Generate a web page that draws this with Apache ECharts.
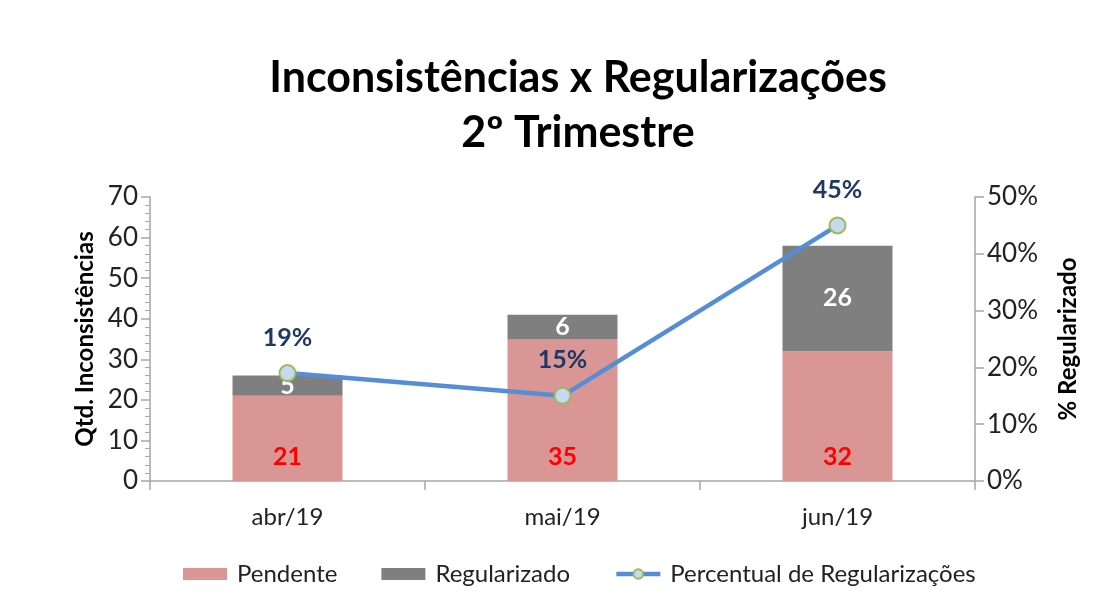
<!DOCTYPE html>
<html>
<head>
<meta charset="utf-8">
<script src="https://cdn.jsdelivr.net/npm/echarts@6/dist/echarts.min.js"></script>
<style>
  html, body { margin: 0; padding: 0; background: #fff; }
  #chart { width: 1108px; height: 611px; }
</style>
</head>
<body>
<div id="chart"></div>
<script>
// dados do gráfico
var meses = ['abr/19', 'mai/19', 'jun/19'];
var pendente = [21, 35, 32];
var regularizado = [5, 6, 26];
var percentual = [19, 15, 45];   // em %

var fonte = 'Lato, "Open Sans", sans-serif';

var myChart = echarts.init(document.getElementById('chart'));

var option = {
  backgroundColor: '#ffffff',
  textStyle: { fontFamily: fonte },
  title: {
    text: 'Inconsistências x Regularizações\n2º Trimestre',
    left: 573,
    textAlign: 'center',
    top: 46,
    textStyle: {
      fontFamily: fonte,
      fontSize: 43,
      fontWeight: 'bold',
      color: '#000',
      lineHeight: 55
    }
  },
  legend: {
    top: 557,
    left: 178,
    itemWidth: 44,
    itemHeight: 12,
    itemGap: 44,
    textStyle: { fontSize: 24, color: '#222', fontFamily: fonte, padding: [0, 0, 0, 5] },
    data: [
      { name: 'Pendente', icon: 'rect' },
      { name: 'Regularizado', icon: 'rect' },
      { name: 'Percentual de Regularizações', lineStyle: { width: 4.5, color: '#558ED5' } }
    ]
  },
  grid: {
    left: 150,
    right: 133,
    top: 197,
    bottom: 130
  },
  xAxis: {
    type: 'category',
    data: meses,
    axisLine: { lineStyle: { color: '#A6A6A6', width: 1.5 } },
    axisTick: { show: true, length: 9, lineStyle: { color: '#A6A6A6', width: 1.5 } },
    axisLabel: { fontSize: 24, color: '#222', margin: 24 }
  },
  yAxis: [
    {
      type: 'value',
      min: 0,
      max: 70,
      interval: 10,
      name: 'Qtd. Inconsistências',
      nameLocation: 'middle',
      nameGap: 51,
      nameTextStyle: { fontSize: 24, fontWeight: 'bold', color: '#000' },
      axisLine: { show: true, lineStyle: { color: '#A6A6A6', width: 1.5 } },
      axisTick: { show: true, length: 9, lineStyle: { color: '#A6A6A6', width: 1.5 } },
      minorTick: { show: true, splitNumber: 5, length: 5, lineStyle: { color: '#A6A6A6' } },
      axisLabel: { fontSize: 26, color: '#222', margin: 12 },
      splitLine: { show: false }
    },
    {
      type: 'value',
      min: 0,
      max: 50,
      interval: 10,
      name: '% Regularizado',
      nameLocation: 'middle',
      nameGap: 81,
      nameRotate: 90,
      nameTextStyle: { fontSize: 24, fontWeight: 'bold', color: '#000' },
      position: 'right',
      axisLine: { show: true, lineStyle: { color: '#A6A6A6', width: 1.5 } },
      axisTick: { show: true, length: 9, lineStyle: { color: '#A6A6A6', width: 1.5 } },
      axisLabel: { fontSize: 26, color: '#222', margin: 12, formatter: '{value}%' },
      splitLine: { show: false }
    }
  ],
  series: [
    {
      name: 'Pendente',
      type: 'bar',
      stack: 'total',
      barWidth: '40%',
      data: pendente,
      itemStyle: { color: '#D99694' },
      label: {
        show: true,
        position: 'insideBottom',
        distance: 12,
        fontSize: 25,
        fontWeight: 'bold',
        color: '#FF0000'
      }
    },
    {
      name: 'Regularizado',
      type: 'bar',
      stack: 'total',
      data: regularizado,
      itemStyle: { color: '#7F7F7F' },
      label: {
        show: true,
        position: 'inside',
        fontSize: 25,
        fontWeight: 'bold',
        color: '#fff'
      }
    },
    {
      name: 'Percentual de Regularizações',
      type: 'line',
      yAxisIndex: 1,
      data: percentual,
      symbol: 'circle',
      symbolSize: 16,
      lineStyle: { color: '#558ED5', width: 4.5 },
      itemStyle: { color: '#C6D9F1', borderColor: '#9BBB59', borderWidth: 2 },
      label: {
        show: true,
        position: 'top',
        distance: 14,
        fontSize: 25,
        fontWeight: 'bold',
        color: '#1F3864',
        formatter: '{c}%'
      },
      z: 5
    }
  ]
};

myChart.setOption(option);
</script>
</body>
</html>
